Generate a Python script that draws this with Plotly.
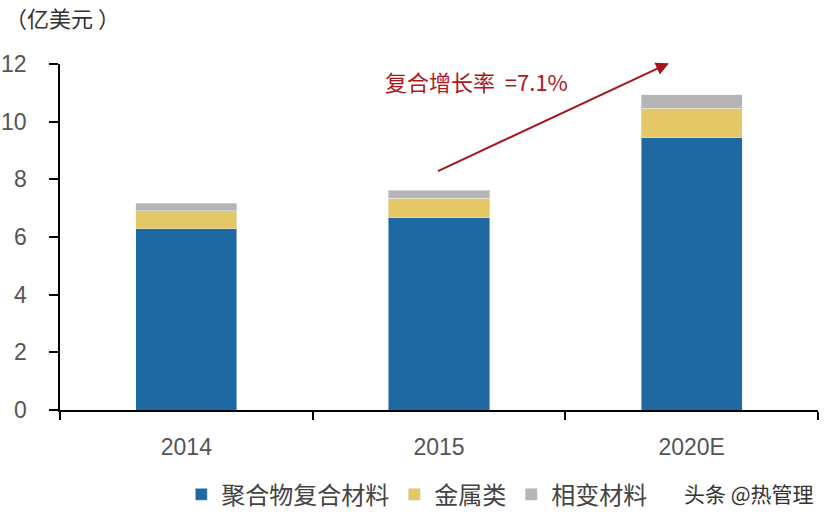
import plotly.graph_objects as go

# data (亿美元)
years = ["2014", "2015", "2020E"]
polymer = [6.28, 6.67, 9.44]
metal = [0.63, 0.68, 1.02]
phase_change = [0.26, 0.28, 0.47]
y_ticks = [0, 2, 4, 6, 8, 10, 12]

cjk = "Noto Sans CJK SC"
num_font = "Liberation Sans"

fig = go.Figure()
fig.add_trace(go.Bar(x=years, y=polymer, name="聚合物复合材料", marker_color="#1F69A3"))
fig.add_trace(go.Bar(x=years, y=metal, name="金属类", marker_color="#E4C766"))
fig.add_trace(go.Bar(x=years, y=phase_change, name="相变材料", marker_color="#B5B4B6"))

fig.update_layout(
    barmode="stack",
    bargap=0.6,
    width=826, height=516,
    margin=dict(l=60, r=8, t=64, b=106, autoexpand=False),
    plot_bgcolor="white", paper_bgcolor="white",
    font=dict(family=num_font, size=23, color="#555555"),
    legend=dict(orientation="h", x=0.16, xanchor="left", y=-0.245, yanchor="middle",
                font=dict(family=cjk, size=24, color="#444444"),
                itemwidth=30, traceorder="normal"),
    showlegend=True,
)
fig.update_xaxes(type="category", showline=True, linecolor="black", linewidth=2,
                 ticks="outside", tickson="boundaries", ticklen=8, tickwidth=2,
                 tickcolor="black", showgrid=False, automargin=False,
                 ticklabelstandoff=15)
fig.update_yaxes(range=[0, 12], tickvals=y_ticks, showline=True, linecolor="black",
                 linewidth=2, ticks="outside", ticklen=9, tickwidth=2, tickcolor="black",
                 showgrid=False, zeroline=False, automargin=False, showticklabels=False)

# y tick labels sit further from the axis than plotly's default
for v in y_ticks:
    fig.add_annotation(text=str(v), x=0, xref="paper", y=v, yref="y", xanchor="right",
                       yanchor="middle", xshift=-31, showarrow=False,
                       font=dict(family=num_font, size=23, color="#555555"))

# title unit
fig.add_annotation(text="（亿美元 ）", xref="paper", yref="paper", x=-0.075, y=1.135,
                   xanchor="left", yanchor="middle", showarrow=False,
                   font=dict(family=cjk, size=22, color="#333333"))

# growth arrow
fig.add_annotation(x=1.91, y=12.03, ax=0.99, ay=8.26, xref="x", yref="y",
                   axref="x", ayref="y", showarrow=True, arrowhead=2, arrowsize=1.3,
                   arrowwidth=2, arrowcolor="#A8141C", text="")
fig.add_annotation(text="复合增长率  =7.1%", x=0.78, y=11.4, xref="x", yref="y",
                   xanchor="left", yanchor="middle", showarrow=False,
                   font=dict(family=cjk, size=22, color="#B0161E"))

# watermark
fig.add_annotation(text="头条 @热管理", xref="paper", yref="paper", x=0.997, y=-0.24,
                   xanchor="right", yanchor="middle", showarrow=False,
                   font=dict(family=cjk, size=21, color="#333333"))

# page has default body margin; drop it so the figure fills the window
fig.write_html("out.html", config={"displayModeBar": False},
               post_script="document.body.style.margin='0';document.body.style.overflow='hidden';")
